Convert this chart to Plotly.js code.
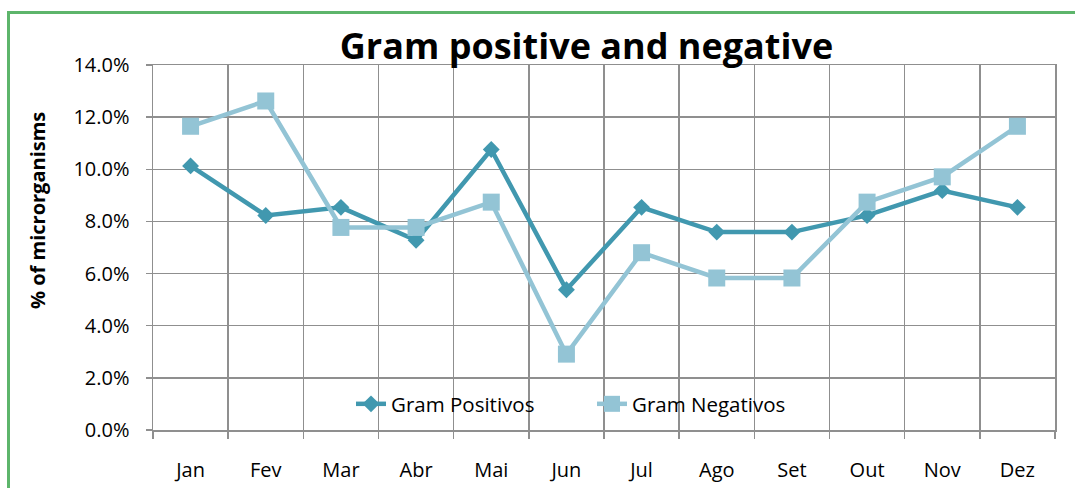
<!DOCTYPE html>
<html>
<head>
<meta charset="utf-8">
<script src="https://cdn.plot.ly/plotly-3.0.1.min.js"></script>
<style>
  html, body { margin: 0; padding: 0; background: #ffffff; }
  #wrap { position: relative; width: 1075px; height: 488px; overflow: hidden; }
  #chart { width: 1075px; height: 488px; }
  #frame { position: absolute; left: 7px; top: 11px; width: 1200px; height: 600px;
           border: 3px solid #5DB56B; pointer-events: none; box-sizing: border-box; }
</style>
</head>
<body>
<div id="wrap">
  <div id="chart"></div>
  <div id="frame"></div>
</div>
<script>
const months = ["Jan", "Fev", "Mar", "Abr", "Mai", "Jun", "Jul", "Ago", "Set", "Out", "Nov", "Dez"];
const gramPositivos = [0.1013, 0.0823, 0.0854, 0.0728, 0.1076, 0.0538, 0.0854, 0.0759, 0.0759, 0.0823, 0.0918, 0.0854];
const gramNegativos = [0.1165, 0.1262, 0.0777, 0.0777, 0.0874, 0.0291, 0.0680, 0.0583, 0.0583, 0.0874, 0.0971, 0.1165];

const FONT = "Open Sans, Noto Sans, sans-serif";
const GRID = "#8F8F8F";

const traces = [
  {
    x: months, y: gramPositivos, name: "Gram Positivos", type: "scatter", mode: "lines+markers",
    line: { color: "#4198AF", width: 4.5 },
    marker: { symbol: "diamond", size: 13, color: "#4198AF" }
  },
  {
    x: months, y: gramNegativos, name: "Gram Negativos", type: "scatter", mode: "lines+markers",
    line: { color: "#93C4D5", width: 4.5 },
    marker: { symbol: "square", size: 17, color: "#93C4D5" }
  }
];

const layout = {
  width: 1075, height: 488,
  margin: { l: 153, r: 20, t: 65, b: 58 },
  paper_bgcolor: "#ffffff", plot_bgcolor: "#ffffff",
  font: { family: FONT, size: 20, color: "#000000" },
  title: {
    text: "<b>Gram positive and negative</b>",
    font: { family: FONT, size: 36, color: "#000000" },
    x: 586.5 / 1075, xref: "container", xanchor: "center",
    y: 1 - 46 / 488, yref: "container", yanchor: "middle"
  },
  xaxis: {
    type: "category", range: [-0.5, 11.5],
    tickson: "boundaries", ticks: "outside", ticklen: 7, tickwidth: 1.5, tickcolor: GRID,
    showgrid: true, gridcolor: GRID, gridwidth: 1.5,
    showline: true, linecolor: GRID, linewidth: 1.5, mirror: true,
    tickfont: { family: FONT, size: 20, color: "#000000" },
    ticklabelstandoff: 21,
    fixedrange: true
  },
  yaxis: {
    range: [0, 0.14], dtick: 0.02, tick0: 0, tickformat: ".1%",
    ticks: "outside", ticklen: 6, tickwidth: 1.5, tickcolor: GRID,
    showgrid: true, gridcolor: GRID, gridwidth: 1.5,
    showline: true, linecolor: GRID, linewidth: 1.5, mirror: true,
    zeroline: false,
    tickfont: { family: FONT, size: 20, color: "#000000" },
    ticklabelstandoff: 12,
    fixedrange: true
  },
  showlegend: true,
  legend: {
    orientation: "h", x: (351 - 153) / 902, xanchor: "left",
    y: (430 - 404) / 365, yanchor: "middle",
    bgcolor: "rgba(0,0,0,0)", borderwidth: 0,
    font: { family: FONT, size: 20.5, color: "#000000" },
    entrywidth: 196, entrywidthmode: "pixels"
  },
  annotations: [
    {
      text: "<b>% of microrganisms</b>", textangle: -90,
      xref: "paper", yref: "paper",
      x: (37 - 153) / 902, y: (430 - 211) / 365,
      xanchor: "center", yanchor: "middle", showarrow: false,
      font: { family: FONT, size: 20, color: "#000000" }
    }
  ]
};

Plotly.newPlot("chart", traces, layout, { displayModeBar: false, staticPlot: true });
</script>
</body>
</html>
